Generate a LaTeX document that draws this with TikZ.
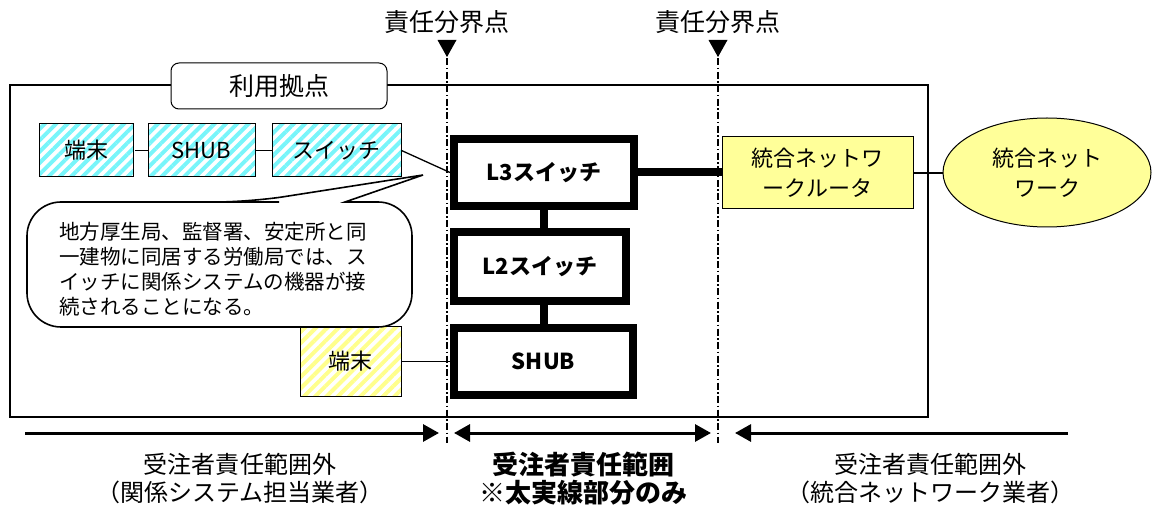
\documentclass[tikz,border=0pt]{standalone}
\usepackage{fontspec}
\setmainfont{Noto Sans CJK JP}
\usetikzlibrary{patterns.meta,shapes.geometric,arrows.meta,calc}
\definecolor{hcyan}{RGB}{120,245,250}
\definecolor{hyel}{RGB}{255,255,140}
\definecolor{ryel}{RGB}{255,255,153}
\newcommand{\fsz}[2]{\fontsize{#1bp}{#2bp}\selectfont}
\tikzset{
  hbox/.style={draw, line width=1bp, inner sep=0pt, font=\fsz{22}{26}},
  cyanh/.style={hbox, pattern={Lines[angle=45,distance=8bp,line width=4bp]}, pattern color=hcyan},
  yelh/.style={hbox, pattern={Lines[angle=45,distance=8bp,line width=4bp]}, pattern color=hyel},
  thickbox/.style={draw, line width=8bp, inner sep=0pt, fill=white, font=\fsz{22}{26}\bfseries},
  thin/.style={line width=1.3bp},
  thick8/.style={line width=8bp},
  divline/.style={line width=1.8bp, dash pattern=on 7bp off 2.5bp on 1.5bp off 2.5bp},
  lbl/.style={font=\fsz{25}{28}, align=center, inner sep=0pt},
  tipT/.tip={Triangle[length=16bp,width=17bp]},
  rngarrow/.style={line width=3bp, -tipT},
}
\begin{document}
\begin{tikzpicture}[x=1bp,y=-1bp]
\useasboundingbox (0,0) rectangle (1153,508);
% outer site box
\draw[line width=2bp] (10,85) rectangle (928,417);
% division lines
\coordinate (d1t) at (447,45); \coordinate (d1b) at (447,443);
\coordinate (d2t) at (718,45); \coordinate (d2b) at (718,443);
\draw[divline] (d1t) -- (d1b);
\draw[divline] (d2t) -- (d2b);
% triangles
\fill ($(d1t)+(-9.5,-5)$) -- ($(d1t)+(9.5,-5)$) -- ($(d1t)+(0,12)$) -- cycle;
\fill ($(d2t)+(-9.5,-5)$) -- ($(d2t)+(9.5,-5)$) -- ($(d2t)+(0,12)$) -- cycle;
\node[lbl] (b1) at (447,22) {責任分界点};
\node[lbl] (b2) at (718,22) {責任分界点};
% site label
\node[draw, line width=1bp, fill=white, rounded corners=8bp, minimum width=216bp, minimum height=46bp, inner sep=0pt, font=\fsz{25}{28}] (site) at (279,86) {利用拠点};
% left hatched devices
\node[cyanh, minimum width=93bp, minimum height=53bp] (t1) at (86.5,150.5) {端末};
\node[cyanh, minimum width=107bp, minimum height=53bp] (sh1) at (201.5,150.5) {SHUB};
\node[cyanh, minimum width=129bp, minimum height=53bp] (sw1) at (336.5,150.5) {スイッチ};
\draw[thin] (t1) -- (sh1);
\draw[thin] (sh1) -- (sw1);
% thick boxes
\node[thickbox, minimum width=180bp, minimum height=67bp] (l3) at (544,172.5) {L3スイッチ};
\node[thickbox, minimum width=172bp, minimum height=69bp] (l2) at (540,266.5) {L2スイッチ};
\node[thickbox, minimum width=179bp, minimum height=67bp] (sh2) at (543.5,361.5) {SHUB};
\draw[thick8] (l3.south) -- (l3.south |- l2.north);
\draw[thick8] (l2.south -| sh2.north) -- (sh2.north);
\draw[thin] (sw1.east) -- (l3.west);
% router and network
\node[draw, line width=1bp, fill=ryel, minimum width=191bp, minimum height=72bp, inner sep=0pt, align=center, font=\fsz{22}{30}] (rt) at (817.5,173) {統合ネットワ\\ークルータ};
\node[ellipse, draw, line width=1bp, fill=ryel, minimum width=208bp, minimum height=109bp, inner sep=0pt, align=center, font=\fsz{22}{30}] (net) at (1047,172.5) {統合ネット\\ワーク};
\draw[thick8] (l3.east) -- (l3.east -| rt.west);
\draw[thin] (rt.east) -- (rt.east -| net.west);
% yellow terminal
\node[yelh, minimum width=101bp, minimum height=69bp] (t2) at (350.5,361.5) {端末};
\draw[thin] (t2.east) -- (t2.east -| sh2.west);
% speech bubble
\coordinate (tip) at (423,175);
\draw[line width=1.6bp, fill=white] (250,202) -- (tip) -- (345,202) -- (350,202) [rounded corners=34bp] -- (412,202) -- (412,327) -- (27,327) -- (27,202) -- (245,202) -- cycle;
\node[anchor=west, align=left, inner sep=0pt, font=\fsz{20.5}{25}] (note) at (59,269.5) {地方厚生局、監督署、安定所と同\\一建物に同居する労働局では、ス\\イッチに関係システムの機器が接\\続されることになる。};
% range arrows
\coordinate (a1s) at (25,433); \coordinate (a1e) at (439,433);
\coordinate (a2s) at (454,433); \coordinate (a2e) at (711,433);
\coordinate (a3s) at (1068,433); \coordinate (a3e) at (735,433);
\draw[rngarrow] (a1s) -- (a1e);
\draw[line width=3bp, tipT-tipT] (a2s) -- (a2e);
\draw[rngarrow] (a3s) -- (a3e);
% bottom labels
\node[lbl, font=\fsz{24}{28}] (r1) at (240,479) {受注者責任範囲外\\（関係システム担当業者）};
\node[lbl, font=\fsz{26}{28}\bfseries] (r2) at (583,479) {受注者責任範囲\\※太実線部分のみ};
\node[lbl, font=\fsz{24}{28}] (r3) at (930,479) {受注者責任範囲外\\（統合ネットワーク業者）};
\end{tikzpicture}
\end{document}
